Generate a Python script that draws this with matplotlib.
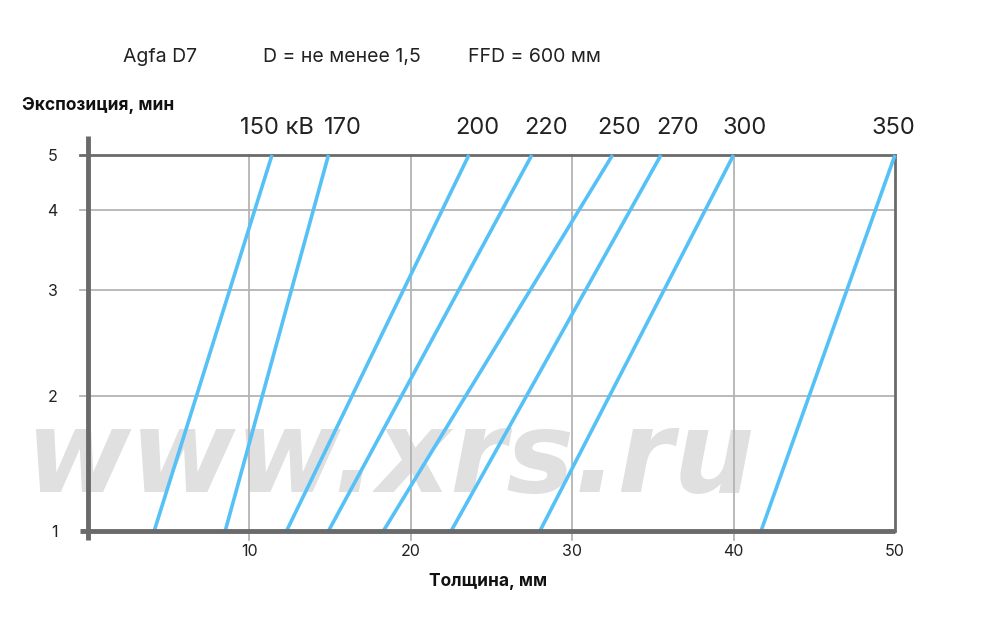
import numpy as np
import matplotlib.pyplot as plt
from matplotlib.transforms import blended_transform_factory

# ── data ────────────────────────────────────────────────────────────────────
voltages   = ["150 кВ", "170", "200", "220", "250", "270", "300", "350"]
thick_at_1 = [4.1, 8.5, 12.3, 14.9, 18.3, 22.5, 28.0, 41.7]   # мм при 1 мин
thick_at_5 = [11.4, 14.9, 23.6, 27.5, 32.5, 35.5, 40.0, 50.0] # мм при 5 мин
exposure   = [1, 5]

y_ticks = [1, 2, 3, 4, 5]
x_ticks = [10, 20, 30, 40, 50]

# the y axis of the original is hand-drawn (neither linear nor log):
# tick value -> relative position
y_pos = [0, 135, 241, 321, 376]

# ── style ───────────────────────────────────────────────────────────────────
FONT  = "Inter"
BLUE  = "#55c1f6"
GRID  = "#b4b4b4"
DARK  = "#6a6a6a"
plt.rcParams["font.family"] = [FONT, "DejaVu Sans"]

fwd = lambda v: np.interp(v, y_ticks, y_pos)
inv = lambda p: np.interp(p, y_pos, y_ticks)

fig = plt.figure(figsize=(10, 6.32), dpi=100)
ax = fig.add_axes([0.088, (632 - 531) / 632, 0.807, 376 / 632])
ax.set_yscale("function", functions=(fwd, inv))
ax.set_xlim(0, 50)
ax.set_ylim(1, 5)
for s in ax.spines.values():
    s.set_visible(False)

# watermark
ax.text(0.39, 1 - 461 / 632, "www.xrs.ru", transform=fig.transFigure,
        ha="center", va="center", fontsize=82, fontweight="bold",
        style="italic", family="DejaVu Sans", color="#e0e0e0",
        zorder=0.5, clip_on=False)

# grid
for x in x_ticks[:-1]:
    ax.plot([x, x], [-0.025, 1], color=GRID, lw=1.3, zorder=1,
            transform=blended_transform_factory(ax.transData, ax.transAxes),
            clip_on=False)
for y in y_ticks[1:-1]:
    ax.plot([-0.5, 50], [y, y], color=GRID, lw=1.3, zorder=1, clip_on=False)

# frame
ax.plot([-0.5, 50], [5, 5], color=DARK, lw=2, zorder=1.5, clip_on=False)
ax.plot([50, 50], [1, 5], color=DARK, lw=2, zorder=1.5, clip_on=False)
ax.plot([-0.5, 50], [1, 1], color=DARK, lw=3.5, zorder=3, clip_on=False,
        solid_capstyle="butt")
ax.plot([0, 0], [-0.025, 1.05], color=DARK, lw=3.5, zorder=3,
        transform=blended_transform_factory(ax.transData, ax.transAxes),
        clip_on=False, solid_capstyle="butt")

# curves
for lbl, x1, x5 in zip(voltages, thick_at_1, thick_at_5):
    ax.plot([x1, x5], exposure, color=BLUE, lw=2.6, zorder=2,
            solid_capstyle="butt", clip_on=False)

# voltage labels above the curves
label_shift = [0.3, 0.9, 0.5, 0.9, 0.4, 1.0, 0.7, -0.1]
for lbl, x5, dx in zip(voltages, thick_at_5, label_shift):
    ax.text(x5 + dx, 1.072, lbl, ha="center", va="center", fontsize=17,
            color="#222222",
            transform=blended_transform_factory(ax.transData, ax.transAxes))

ax.set_xticks(x_ticks)
ax.set_yticks(y_ticks)
ax.set_xticklabels([str(v) for v in x_ticks])
ax.set_yticklabels([str(v) for v in y_ticks])
ax.tick_params(axis="x", length=0, pad=9, labelsize=11.5, labelcolor="#222222")
ax.tick_params(axis="y", length=0, pad=22, labelsize=11.5, labelcolor="#222222")

# titles / axis names
fig.text(0.123, 1 - 57 / 632, "Agfa D7", fontsize=14, va="center",
         color="#222222")
fig.text(0.263, 1 - 57 / 632, "D = не менее 1,5", fontsize=14, va="center",
         color="#222222")
fig.text(0.468, 1 - 57 / 632, "FFD = 600 мм", fontsize=14, va="center",
         color="#222222")
fig.text(0.022, 1 - 105 / 632, "Экспозиция, мин", fontsize=12.5,
         fontweight="bold", va="center", color="#111111")
fig.text(0.488, 1 - 582 / 632, "Толщина, мм", fontsize=12.5,
         fontweight="bold", va="center", ha="center", color="#111111")

fig.savefig("out.png", dpi=100)
